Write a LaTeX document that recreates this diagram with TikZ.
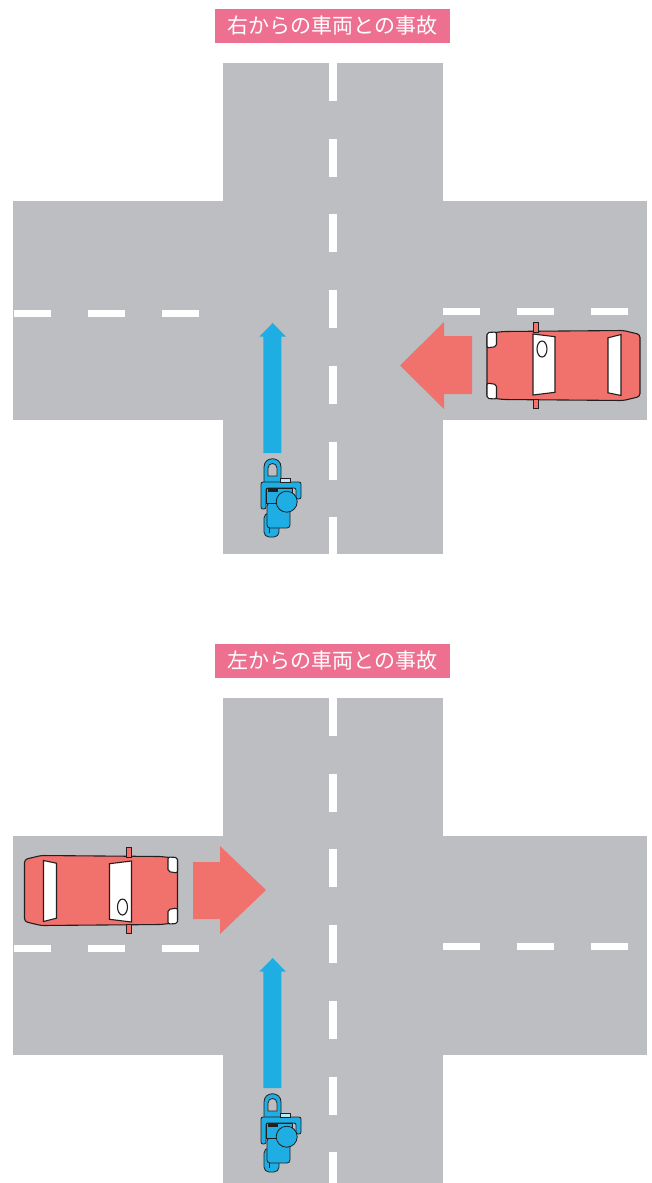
\documentclass[tikz,border=0pt]{standalone}
\usepackage{fontspec}
\newfontfamily\jpfont{Noto Sans CJK JP}
\definecolor{roadgray}{RGB}{189, 190, 194}
\definecolor{titlepink}{RGB}{238, 112, 145}
\definecolor{carred}{RGB}{241, 113, 108}
\definecolor{bikeblue}{RGB}{30, 174, 227}
\definecolor{inkdark}{RGB}{35, 31, 32}
\usepackage{tikz}

\tikzset{
  road/.style={fill=roadgray},
  vlane/.style={draw=white, line width=8pt, dash pattern=on 38pt off 37.7pt},
  hlane/.style={draw=white, line width=7pt, dash pattern=on 37pt off 37pt},
  titlebox/.style={fill=titlepink, text=white, minimum width=235pt, minimum height=34pt, inner sep=0pt, font=\jpfont\fontsize{21}{21}\selectfont},
  carline/.style={draw=inkdark, line width=1.1pt},
  bikeline/.style={draw=inkdark, line width=0.8pt},
  % car seen from above, front to the left
  car/.pic={
    \draw[carline, fill=carred, rounded corners=3pt] (-76.5,-32) -- (-60,-34) -- (60,-35) -- (76.5,-31) -- (76.5,31) -- (60,35) -- (-60,34) -- (-76.5,32) -- cycle;
    \draw[carline, fill=white, rounded corners=2pt] (-76.5,-33) -- (-67,-33.5) -- (-67,-19) -- (-76.5,-17.5) -- cycle;
    \draw[carline, fill=white, rounded corners=2pt] (-76.5,33) -- (-67,33.5) -- (-67,19) -- (-76.5,17.5) -- cycle;
    \draw[carline, fill=carred, line width=0.8pt] (-30.5,-43) rectangle (-25.5,-33.5);
    \draw[carline, fill=carred, line width=0.8pt] (-30.5,43) rectangle (-25.5,33.5);
    \draw[carline, fill=white] (-30.5,-31.5) -- (-8.5,-28.8) -- (-8.5,26.8) -- (-30.5,29.5) -- cycle;
    \draw[carline] (-21.5,-16.5) ellipse (5 and 8);
    \draw[carline, fill=white] (44.5,-27.7) -- (57.5,-31) -- (57.5,30) -- (44.5,27.3) -- cycle;
  },
  % motorcycle with rider, front up
  bike/.pic={
    \draw[bikeline, fill=bikeblue] (-16,-14) -- (-16,-30) .. controls (-16,-41) and (1,-41) .. (1,-30) -- (1,-14) -- cycle;
    \draw[bikeline, fill=roadgray] (-12,-21) -- (-12,-29) .. controls (-12,-35) and (-3,-35) .. (-3,-29) -- (-3,-21) -- cycle;
    \draw[bikeline, fill=bikeblue, rounded corners=5pt] (-16,16) rectangle (-1,40);
    \draw[bikeline] (-11,24) -- (-11,36);
    \draw[bikeline, fill=bikeblue, rounded corners=3pt] (-13,6) rectangle (10,31);
    \draw[bikeline, fill=bikeblue, rounded corners=2pt] (-19,12) -- (-19,-15) -- (21,-15) -- (21,2) -- (16,2) -- (16,-9) -- (-14,-9) -- (-14,12) -- cycle;
    \draw[bikeline, fill=bikeblue] (-14,-9) rectangle (12,6);
    \fill[inkdark] (-12,-8) rectangle (-2,-5.5);
    \draw[bikeline, fill=bikeblue!30] (0,-19) rectangle (10,-15);
    \draw[bikeline, fill=bikeblue] (6.7,4.7) circle (10.5);
  }
}

\begin{document}
\begin{tikzpicture}[x=1pt, y=-1pt]
  \useasboundingbox (0,0) rectangle (651,1183);

  % Vehicle coming from the right
  \node[titlebox] (titleright) at (332.5,26) {右からの車両との事故};
  \fill[road] (223,63) rectangle (443,554);
  \fill[road] (13,201) rectangle (647,420);
  \draw[vlane] (333,63) -- (333,554);
  \draw[hlane] (199,313.5) -- (13,313.5);
  \draw[hlane] (443,311) -- (647,311);
  \fill[carred] (472,336) -- (444,336) -- (444,322) -- (400,365.5) -- (444,409) -- (444,394) -- (472,394) -- cycle;
  \pic (carright) at (563.5,365.5) {car};
  \fill[bikeblue] (263.3,453) -- (263.3,336.7) -- (259.3,336.7) -- (272.7,323) -- (286,336.7) -- (281.3,336.7) -- (281.3,453) -- cycle;
  \pic (bikeright) at (280,497) {bike};

  % Vehicle coming from the left
  \begin{scope}[shift={(0,635)}]
    \node[titlebox] (titleleft) at (332.5,26) {左からの車両との事故};
    \fill[road] (223,63) rectangle (443,548);
    \fill[road] (13,201) rectangle (647,420);
    \draw[vlane] (333,63) -- (333,548);
    \draw[hlane] (199,313.5) -- (13,313.5);
    \draw[hlane] (443,311) -- (647,311);
    \fill[carred] (193,227) -- (220,227) -- (220,211) -- (266,255) -- (220,299) -- (220,284) -- (193,284) -- cycle;
    \pic[rotate=180] (carleft) at (101,255.5) {car};
    \fill[bikeblue] (263.3,453) -- (263.3,336.7) -- (259.3,336.7) -- (272.7,323) -- (286,336.7) -- (281.3,336.7) -- (281.3,453) -- cycle;
    \pic (bikeleft) at (280,497) {bike};
  \end{scope}
\end{tikzpicture}
\end{document}
